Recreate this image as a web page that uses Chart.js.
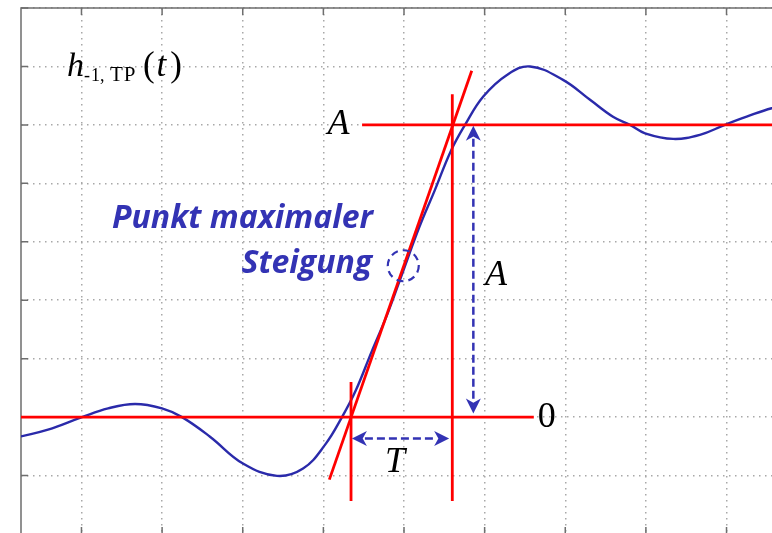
<!DOCTYPE html>
<html lang="de">
<head>
<meta charset="UTF-8">
<script src="https://cdn.jsdelivr.net/npm/chart.js"></script>
<title>Sprungantwort Tiefpass</title>
<style>
  html, body { margin: 0; padding: 0; overflow: hidden; background: #fff; }
  #wrap { position: absolute; left: 0; top: 0; width: 800px; height: 545px; }
</style>
</head>
<body>
<div id="wrap"><canvas id="chart"></canvas></div>
<script>
// Sprungantwort h_-1,TP(t): Zeit in Rasterteilen, Wert in Einheiten von A
const curveT = [-4.75, -4.415, -3.994, -3.67, -3.336, -3.001, -2.753, -2.406, -1.997, -1.575,
                -1.252, -0.98, -0.769, -0.60, -0.40, -0.21, -0.01, 0.19, 0.38,
                0.58, 0.757, 0.983, 1.277, 1.563, 1.972, 2.307, 2.592, 2.803, 2.99,
                3.338, 3.67, 3.98, 4.25, 4.56, 4.76];
const curveH = [-0.066, -0.043, 0.0, 0.03, 0.045, 0.03, 0.0, -0.067, -0.159, -0.201,
                -0.176, -0.095, 0.0, 0.09, 0.225, 0.35, 0.50, 0.65, 0.775,
                0.91, 1.0, 1.097, 1.171, 1.2, 1.154, 1.086, 1.028, 1.0, 0.971,
                0.952, 0.966, 1.0, 1.028, 1.057, 1.065];

// rote Hilfslinien
const zeroLineT = [-4.75, 1.61];
const zeroLineH = [0, 0];
const aLineT = [-0.52, 4.76];
const aLineH = [1, 1];
const tangentT = [-0.926, 0.84];
const tangentH = [-0.214, 1.185];
const startMarkT = [-0.657, -0.657];
const startMarkH = [0.12, -0.287];
const endMarkT = [0.599, 0.599];
const endMarkH = [1.105, -0.287];

// blaue Pfeile und Kreis
const arrowA = { t: [0.86, 0.86], h: [0.997, 0.012] };
const arrowT = { t: [-0.646, 0.56], h: [-0.073, -0.073] };
const turnPoint = { t: -0.009, h: 0.518 };

const RED = '#ff0000';
const BLUE = '#2a2aaa';
const NOTE = '#3333b4';

function pts(ts, hs) {
  return ts.map((t, i) => ({ x: t, y: hs[i] }));
}

function redLine(ts, hs) {
  return {
    data: pts(ts, hs), borderColor: RED, borderWidth: 2.8,
    pointRadius: 0, tension: 0, order: 0
  };
}

// Rahmen links/oben mit nach innen zeigenden Ticks
const frame = {
  id: 'frame',
  beforeDatasetsDraw(chart) {
    const { ctx, chartArea: a, scales: { x, y } } = chart;
    ctx.save();
    ctx.strokeStyle = '#6e6e6e';
    ctx.lineWidth = 1.5;
    ctx.strokeRect(a.left, a.top, a.right - a.left, a.bottom - a.top);
    ctx.beginPath();
    x.ticks.forEach(tk => {
      const px = x.getPixelForValue(tk.value);
      ctx.moveTo(px, a.top); ctx.lineTo(px, a.top + 7);
      ctx.moveTo(px, a.bottom); ctx.lineTo(px, a.bottom - 7);
    });
    y.ticks.forEach(tk => {
      const py = y.getPixelForValue(tk.value);
      ctx.moveTo(a.left, py); ctx.lineTo(a.left + 7, py);
      ctx.moveTo(a.right, py); ctx.lineTo(a.right - 7, py);
    });
    ctx.stroke();
    ctx.restore();
  }
};

function arrow(ctx, x1, y1, x2, y2) {
  const ang = Math.atan2(y2 - y1, x2 - x1);
  const len = Math.hypot(x2 - x1, y2 - y1);
  const head = 15, half = 7.5;
  ctx.save();
  ctx.translate(x1, y1);
  ctx.rotate(ang);
  ctx.setLineDash([8, 4]);
  ctx.lineWidth = 2.5;
  ctx.beginPath();
  ctx.moveTo(head - 2, 0);
  ctx.lineTo(len - head + 2, 0);
  ctx.stroke();
  ctx.setLineDash([]);
  const tip = (px, dir) => {
    ctx.beginPath();
    ctx.moveTo(px, 0);
    ctx.lineTo(px + dir * head, -half);
    ctx.lineTo(px + dir * head * 0.72, 0);
    ctx.lineTo(px + dir * head, half);
    ctx.closePath();
    ctx.fill();
  };
  tip(0, 1);
  tip(len, -1);
  ctx.restore();
}

// Beschriftungen, Pfeile, Kreis
const notes = {
  id: 'notes',
  afterDatasetsDraw(chart) {
    const { ctx, scales: { x, y } } = chart;
    const X = v => x.getPixelForValue(v);
    const Y = v => y.getPixelForValue(v);
    ctx.save();

    ctx.strokeStyle = NOTE;
    ctx.fillStyle = NOTE;
    arrow(ctx, X(arrowA.t[0]), Y(arrowA.h[0]), X(arrowA.t[1]), Y(arrowA.h[1]));
    arrow(ctx, X(arrowT.t[0]), Y(arrowT.h[0]), X(arrowT.t[1]), Y(arrowT.h[1]));

    ctx.lineWidth = 2.2;
    ctx.setLineDash([7, 5]);
    ctx.beginPath();
    ctx.arc(X(turnPoint.t), Y(turnPoint.h), 15.5, 0, Math.PI * 2);
    ctx.stroke();
    ctx.setLineDash([]);

    ctx.font = 'italic bold 32px "Open Sans"';
    ctx.textAlign = 'right';
    ctx.textBaseline = 'alphabetic';
    ctx.fillText('Punkt maximaler', X(-0.385), Y(0.647));
    ctx.fillText('Steigung', X(-0.395), Y(0.493));

    ctx.fillStyle = '#000';
    ctx.textBaseline = 'middle';
    ctx.font = 'italic 36px "Liberation Serif"';
    ctx.fillText('A', X(-0.676), Y(1));
    ctx.textAlign = 'center';
    ctx.fillText('A', X(1.14), Y(0.483));
    ctx.fillText('T', X(-0.11), Y(-0.155));
    ctx.textAlign = 'left';
    ctx.font = '36px "Liberation Serif"';
    ctx.fillText('0', X(1.66), Y(0));

    // h_{-1,TP}(t)
    ctx.textBaseline = 'alphabetic';
    let px = X(-4.18);
    const base = Y(1.168);
    ctx.font = 'italic 34px "Liberation Serif"';
    ctx.fillText('h', px, base);
    ctx.font = '18px "Liberation Serif"';
    ctx.fillText('-', px + 17, base + 5);
    ctx.fillText('1', px + 24, base + 5);
    ctx.fillText(',', px + 33, base + 5);
    ctx.font = '21px "Liberation Serif"';
    ctx.letterSpacing = '1px';
    ctx.fillText('TP', px + 43, base + 5);
    ctx.letterSpacing = '0px';
    px += 76;
    ctx.font = '35px "Liberation Serif"';
    ctx.fillText('(', px, base);
    px += ctx.measureText('(').width + 2;
    ctx.font = 'italic 35px "Liberation Serif"';
    ctx.fillText('t', px, base);
    px += ctx.measureText('t').width + 4;
    ctx.font = '35px "Liberation Serif"';
    ctx.fillText(')', px, base);

    ctx.restore();
  }
};

new Chart(document.getElementById('chart'), {
  type: 'line',
  data: {
    datasets: [
      {
        data: pts(curveT, curveH), borderColor: BLUE, borderWidth: 2.4,
        pointRadius: 0, tension: 0.4, order: 1
      },
      redLine(zeroLineT, zeroLineH),
      redLine(aLineT, aLineH),
      redLine(tangentT, tangentH),
      redLine(startMarkT, startMarkH),
      redLine(endMarkT, endMarkH)
    ]
  },
  options: {
    responsive: true,
    maintainAspectRatio: false,
    animation: false,
    layout: { padding: { left: 21, top: 8, right: 13, bottom: 11 } },
    plugins: { legend: { display: false }, tooltip: { enabled: false } },
    scales: {
      x: {
        type: 'linear', min: -4.75, max: 4.75,
        ticks: { display: false, stepSize: 1, includeBounds: false },
        grid: { color: '#a8a8a8', lineWidth: 1.5, drawTicks: false },
        border: { display: false, dash: [1.5, 4.5] },
        afterFit(s) { s.height = 0; }
      },
      y: {
        type: 'linear', min: -0.4, max: 1.4,
        ticks: { display: false, stepSize: 0.2 },
        grid: { color: '#a8a8a8', lineWidth: 1.5, drawTicks: false },
        border: { display: false, dash: [1.5, 4.5] },
        afterFit(s) { s.width = 0; }
      }
    }
  },
  plugins: [frame, notes]
});
</script>
</body>
</html>
